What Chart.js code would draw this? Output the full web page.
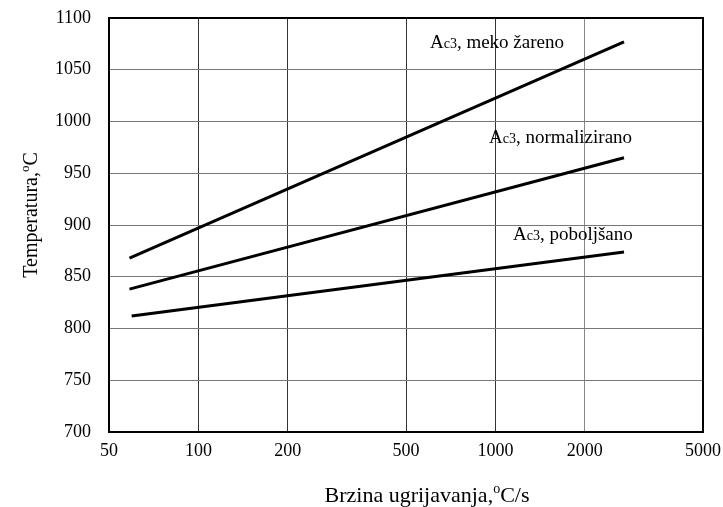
<!DOCTYPE html>
<html>
<head>
<meta charset="utf-8">
<script src="https://cdn.jsdelivr.net/npm/chart.js@4/dist/chart.umd.min.js"></script>
<style>
  body { margin: 0; background: #fff; }
  #wrap { width: 723px; height: 507px; }
</style>
</head>
<body>
<div id="wrap"><canvas id="myChart" width="723" height="507"></canvas></div>
<script>
// heating rate ticks (log axis) and temperature ticks
const xTicks = [50, 100, 200, 500, 1000, 2000, 5000]
const yTicks = [700, 750, 800, 850, 900, 950, 1000, 1050, 1100]

// Ac3 lines
const xMeko = [58.6, 2710]
const yMeko = [868, 1077]
const xNorm = [58.6, 2710]
const yNorm = [838, 965]
const xPob = [59.6, 2710]
const yPob = [812, 874]

const names = [', meko žareno', ', normalizirano', ', poboljšano']
// where each label starts (x) and sits (y), in data units
const labelX = [602, 952, 1146]
const labelY = [1077, 985, 891]

function pts(xs, ys) {
  return xs.map((x, i) => ({x: x, y: ys[i]}))
}

const serif = '"Liberation Serif", "Times New Roman", serif'

// draws a run of [text, size, rise] pieces starting at x, baseline y
function drawRuns(ctx, runs, x, y) {
  runs.forEach(r => {
    ctx.font = r[1] + 'px ' + serif
    ctx.fillText(r[0], x, y - r[2])
    x += ctx.measureText(r[0]).width
  })
  return x
}
function runsWidth(ctx, runs) {
  let w = 0
  runs.forEach(r => {
    ctx.font = r[1] + 'px ' + serif
    w += ctx.measureText(r[0]).width
  })
  return w
}

const extras = {
  id: 'extras',
  beforeDatasetsDraw(chart) {
    const ctx = chart.ctx, a = chart.chartArea
    ctx.save()
    ctx.strokeStyle = '#000'
    ctx.lineWidth = 2
    ctx.strokeRect(a.left, a.top, a.right - a.left, a.bottom - a.top)
    ctx.restore()
  },
  afterDraw(chart) {
    const ctx = chart.ctx
    const xs = chart.scales.x, ys = chart.scales.y
    ctx.save()
    ctx.fillStyle = '#000'
    ctx.textBaseline = 'alphabetic'
    ctx.textAlign = 'left'

    // series labels
    names.forEach((n, i) => {
      const px = xs.getPixelForValue(labelX[i])
      const py = ys.getPixelForValue(labelY[i]) + 6
      drawRuns(ctx, [['A', 19, 0], ['c3', 14, 0], [n, 19, 0]], px, py)
    })

    // x axis title
    const xt = [['Brzina ugrijavanja,', 22, 0], ['o', 14, 9], ['C/s', 22, 0]]
    const wx = runsWidth(ctx, xt)
    drawRuns(ctx, xt, 427 - wx / 2, 502)

    // y axis title, rotated
    const yt = [['Temperatura,', 20, 0], ['o', 13, 8], ['C', 20, 0]]
    const wy = runsWidth(ctx, yt)
    ctx.translate(37, 215)
    ctx.rotate(-Math.PI / 2)
    drawRuns(ctx, yt, -wy / 2, 0)
    ctx.restore()
  }
}

function noPad(s) {
  s.paddingTop = 0
  s.paddingBottom = 0
  s.paddingLeft = 0
  s.paddingRight = 0
}

new Chart('myChart', {
  type: 'scatter',
  data: {
    datasets: [{
      data: pts(xMeko, yMeko)
    }, {
      data: pts(xNorm, yNorm)
    }, {
      data: pts(xPob, yPob)
    }].map(d => Object.assign(d, {
      showLine: true,
      borderColor: '#000',
      borderWidth: 3,
      pointRadius: 0,
      fill: false
    }))
  },
  options: {
    responsive: false,
    animation: false,
    layout: {padding: {top: 18, right: 20, left: 0, bottom: 0}},
    plugins: {
      legend: {display: false},
      tooltip: {enabled: false}
    },
    scales: {
      x: {
        type: 'logarithmic',
        min: 50,
        max: 5000,
        afterBuildTicks: s => { s.ticks = xTicks.map(v => ({value: v})) },
        afterFit: s => { s.height = 75; noPad(s) },
        grid: {
          color: c => (c.tick && c.tick.value === 2000) ? '#888' : '#333',
          lineWidth: 1,
          drawTicks: false
        },
        border: {display: false},
        ticks: {
          autoSkip: false,
          maxRotation: 0,
          padding: 8,
          color: '#000',
          font: {family: serif, size: 18},
          callback: v => String(v)
        }
      },
      y: {
        min: 700,
        max: 1100,
        afterBuildTicks: s => { s.ticks = yTicks.map(v => ({value: v})) },
        afterFit: s => { s.width = 109; noPad(s) },
        grid: {color: '#777', lineWidth: 1, drawTicks: false},
        border: {display: false},
        ticks: {
          padding: 18,
          color: '#000',
          font: {family: serif, size: 18},
          callback: v => String(v)
        }
      }
    }
  },
  plugins: [extras]
})
</script>
</body>
</html>
